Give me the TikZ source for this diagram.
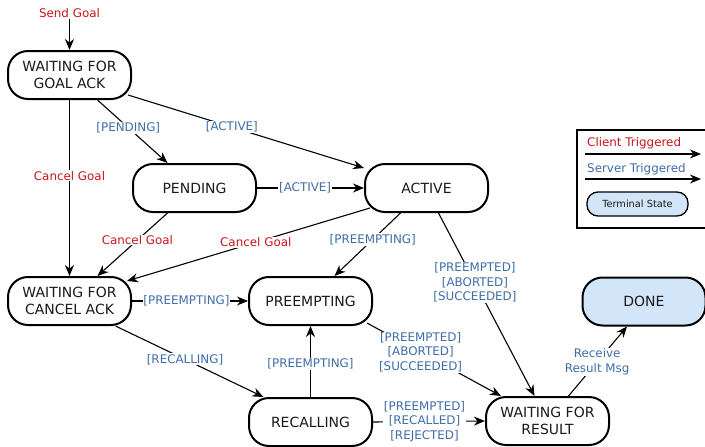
\documentclass[tikz,border=0pt]{standalone}
\usepackage{fontspec}
\setmainfont{DejaVu Sans}
\usetikzlibrary{arrows.meta,calc}
\definecolor{clientred}{HTML}{C8161D}
\definecolor{serverblue}{HTML}{3F6EA8}
\definecolor{termfill}{HTML}{D2E5F9}
\definecolor{txtdark}{HTML}{1A1A1A}
\tikzset{
  state/.style={draw=black,line width=2pt,rounded corners=20pt,minimum width=123pt,minimum height=48pt,
    align=center,inner sep=2pt,text=txtdark,font=\fontsize{14}{16.5}\selectfont},
  terminal/.style={state,fill=termfill},
  arr/.style={draw=black,line width=1.1pt,-{Stealth[length=11pt,width=9pt,inset=3.5pt]}},
  lblb/.style={fill=white,inner sep=0.8pt,align=center,text=serverblue,font=\fontsize{11.9}{14.5}\selectfont},
  lblr/.style={fill=white,inner sep=0.8pt,align=center,text=clientred,font=\fontsize{11.9}{14.5}\selectfont},
}
\begin{document}
\begin{tikzpicture}[x=1pt,y=-1pt]
\useasboundingbox (0,0) rectangle (705,447);
% states
\node[state] (gack) at (69.5,75) {WAITING FOR\\GOAL ACK};
\node[state] (pend) at (194.5,188) {PENDING};
\node[state] (act) at (426.5,188) {ACTIVE};
\node[state] (cack) at (69.5,301) {WAITING FOR\\CANCEL ACK};
\node[state] (pre) at (310.5,301) {PREEMPTING};
\node[state] (rec) at (310.5,422) {RECALLING};
\node[state] (res) at (547.5,421) {WAITING FOR\\RESULT};
\node[terminal] (done) at (644,301.5) {DONE};
% start
\node[text=clientred,font=\fontsize{11.9}{14}\selectfont,inner sep=1pt] (send) at (69.5,13) {Send Goal};
\draw[arr] (send.south) -- (gack.north);
% edges
\draw[arr] ($(gack.south)+(28,0)$) -- ($(pend.north)+(-27,0)$) node[lblb,pos=0.44] {[PENDING]};
\draw[arr] ($(gack.south east)+(-4,-5)$) -- ($(act.north west)+(0,5)$) node[lblb,pos=0.44] {[ACTIVE]};
\draw[arr] (gack.south) -- (cack.north) node[lblr,pos=0.43] {Cancel Goal};
\draw[arr] (pend.east) -- (act.west) node[lblb,pos=0.45] {[ACTIVE]};
\draw[arr] ($(pend.south)+(-27,0)$) -- ($(cack.north)+(28,0)$) node[lblr,pos=0.43] {Cancel Goal};
\draw[arr] ($(act.south west)+(6,-5)$) -- ($(cack.north east)+(-5,5)$) node[lblr,pos=0.47] {Cancel Goal};
\draw[arr] ($(act.south)+(-26,0)$) -- ($(pre.north)+(24,0)$) node[lblb,pos=0.42] {[PREEMPTING]};
\draw[arr] ($(act.south)+(12,0)$) -- ($(res.north)+(-13,0)$) node[lblb,pos=0.38] {[PREEMPTED]\\{[ABORTED]}\\{[SUCCEEDED]}};
\draw[arr] (cack.east) -- (pre.west) node[lblb,pos=0.47] {[PREEMPTING]};
\draw[arr] ($(cack.south)+(46,0)$) -- ($(rec.north)+(-47,0)$) node[lblb,pos=0.47] {[RECALLING]};
\draw[arr] (rec.north) -- (pre.south) node[lblb,pos=0.47] {[PREEMPTING]};
\draw[arr] ($(pre.south east)+(-6,-3)$) -- ($(res.north west)+(16,0)$) node[lblb,pos=0.40] {[PREEMPTED]\\{[ABORTED]}\\{[SUCCEEDED]}};
\draw[arr] (rec.east) -- (res.west) node[lblb,pos=0.46] {[PREEMPTED]\\{[RECALLED]}\\{[REJECTED]}};
\draw[arr] ($(res.north)+(21,0)$) -- ($(done.south)+(-17,0)$) node[lblb,pos=0.49] {Receive\\Result Msg};
% legend
\draw[line width=1.1pt] (577,130) rectangle (712,228);
\node[anchor=west,text=clientred,font=\fontsize{11.9}{14}\selectfont,inner sep=0pt] (lc) at (587,143) {Client Triggered};
\coordinate (lc1) at (585,154);
\coordinate (lc2) at (701,154);
\draw[arr] (lc1) -- (lc2);
\node[anchor=west,text=serverblue,font=\fontsize{11.9}{14}\selectfont,inner sep=0pt] (ls) at (587,169) {Server Triggered};
\coordinate (ls1) at (585,179);
\coordinate (ls2) at (701,179);
\draw[arr] (ls1) -- (ls2);
\node[draw=black,line width=1.3pt,fill=termfill,rounded corners=11pt,minimum width=101pt,minimum height=24pt,
  text=txtdark,font=\fontsize{9.8}{11}\selectfont] (lt) at (637.5,204) {Terminal State};
\end{tikzpicture}
\end{document}
